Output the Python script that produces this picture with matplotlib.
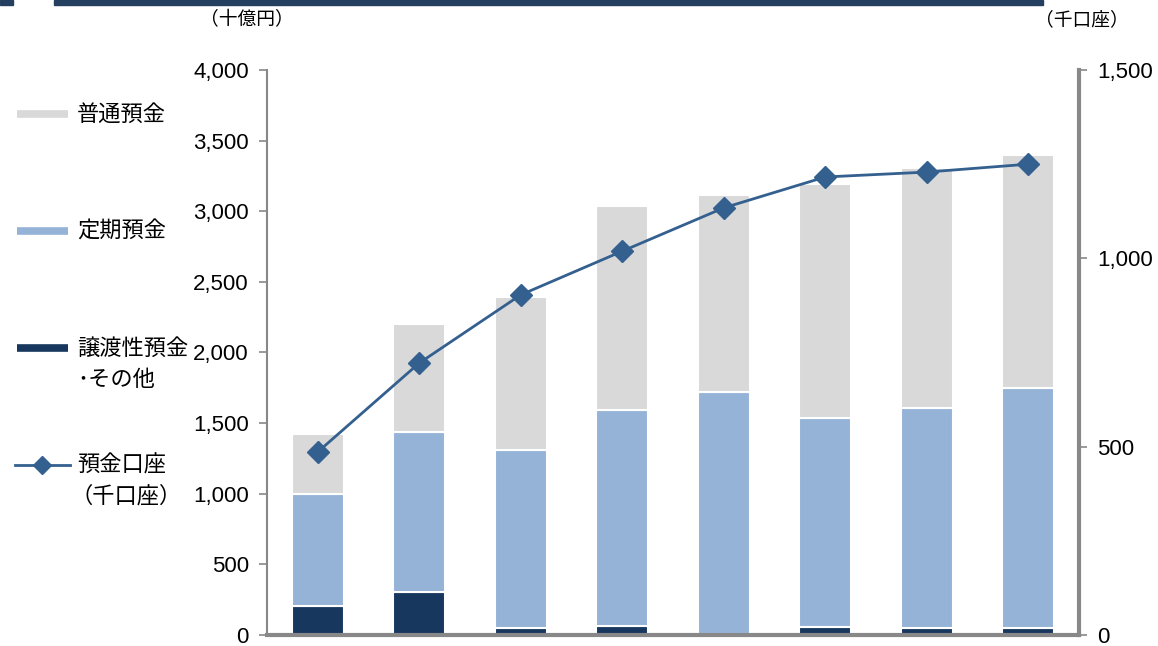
import matplotlib
matplotlib.use("Agg")
import matplotlib.pyplot as plt
import numpy as np
from matplotlib.lines import Line2D
from matplotlib.patches import Rectangle

plt.rcParams['font.family'] = ['Liberation Sans', 'Noto Sans CJK JP', 'DejaVu Sans']

# data (十億円 / 千口座)
categories = ["1", "2", "3", "4", "5", "6", "7", "8"]
other = [205, 304, 50, 64, 5, 57, 50, 50]          # 譲渡性預金・その他
teiki = [793, 1133, 1260, 1529, 1715, 1479, 1557, 1699]  # 定期預金
futsu = [425, 765, 1083, 1444, 1395, 1657, 1699, 1649]   # 普通預金
accounts = [486, 722, 903, 1019, 1134, 1216, 1229, 1250]  # 預金口座（千口座）

c_dark = '#17375E'
c_blue = '#95B3D7'
c_gray = '#D9D9D9'
c_line = '#34608F'
c_axis = '#888888'

fig = plt.figure(figsize=(11.58, 6.46), dpi=100)
ax = fig.add_axes([267/1158, 1-635/646, (1079-267)/1158, (635-70)/646])

x = np.arange(len(categories)) + 0.5
w = 0.51
o = np.array(other); t = np.array(teiki); f = np.array(futsu)
ax.bar(x, o, w, color=c_dark, edgecolor='white', linewidth=1.5, zorder=2)
ax.bar(x, t, w, bottom=o, color=c_blue, edgecolor='white', linewidth=1.5, zorder=2)
ax.bar(x, f, w, bottom=o+t, color=c_gray, edgecolor='white', linewidth=1.5, zorder=2)

ax.set_xlim(0, len(categories))
ax.set_ylim(0, 4000)
ax.set_yticks(np.arange(0, 4001, 500))
ax.set_yticklabels([f"{v:,}" for v in range(0, 4001, 500)], fontsize=16)
ax.set_xticks([])
ax.spines['top'].set_visible(False)
ax.spines['right'].set_visible(False)
ax.spines['left'].set_color(c_axis)
ax.spines['left'].set_linewidth(1.5)
ax.spines['bottom'].set_color(c_axis)
ax.spines['bottom'].set_linewidth(3)
ax.tick_params(axis='y', direction='out', length=6, width=1.2, color=c_axis, pad=7)

ax2 = ax.twinx()
ax2.plot(x, accounts, color=c_line, linewidth=2, marker='D', markersize=11,
         markerfacecolor=c_line, markeredgecolor=c_line, zorder=5)
ax2.set_ylim(0, 1500)
ax2.set_yticks([0, 500, 1000, 1500])
ax2.set_yticklabels([f"{v:,}" for v in [0, 500, 1000, 1500]], fontsize=16)
for s in ['top', 'left', 'bottom']:
    ax2.spines[s].set_visible(False)
ax2.spines['right'].set_color(c_axis)
ax2.spines['right'].set_linewidth(3)
ax2.tick_params(axis='y', direction='out', length=6, width=1.2, color=c_axis, pad=7)

jp = ['Noto Sans CJK JP']
# unit labels
fig.text(247/1158, 1-20/646, "（十億円）", fontsize=13.5, ha='center', va='center', family=jp)
fig.text(1082/1158, 1-20/646, "（千口座）", fontsize=13.5, ha='center', va='center', family=jp)

# header bar
fig.patches.append(Rectangle((0, 1-5/646), 13/1158, 5/646, transform=fig.transFigure,
                             color='#243F60', zorder=10))
fig.patches.append(Rectangle((54/1158, 1-5/646), (1043-54)/1158, 5/646, transform=fig.transFigure,
                             color='#243F60', zorder=10))

# legend (manual)
def legend_patch(y, color):
    fig.lines.append(Line2D([17/1158, 68/1158], [1-y/646]*2, transform=fig.transFigure,
                            color=color, linewidth=5.5, solid_capstyle='butt'))

fs = 16
legend_patch(114, c_gray)
fig.text(77/1158, 1-114/646, "普通預金", fontsize=fs, va='center', family=jp)
legend_patch(231, c_blue)
fig.text(77/1158, 1-231/646, "定期預金", fontsize=fs, va='center', family=jp)
legend_patch(348, c_dark)
fig.text(77/1158, 1-348/646, "譲渡性預金", fontsize=fs, va='center', family=jp)
fig.text(77/1158, 1-380/646, "･その他", fontsize=fs, va='center', family=jp)
fig.lines.append(Line2D([15/1158, 70/1158], [1-465/646]*2, transform=fig.transFigure,
                        color=c_line, linewidth=2))
fig.lines.append(Line2D([42/1158], [1-465/646], transform=fig.transFigure,
                        color=c_line, marker='D', markersize=9, linestyle='none'))
fig.text(77/1158, 1-465/646, "預金口座", fontsize=fs, va='center', family=jp)
fig.text(70/1158, 1-496/646, "（千口座）", fontsize=fs, va='center', family=jp)

fig.savefig("out.png", dpi=100)
